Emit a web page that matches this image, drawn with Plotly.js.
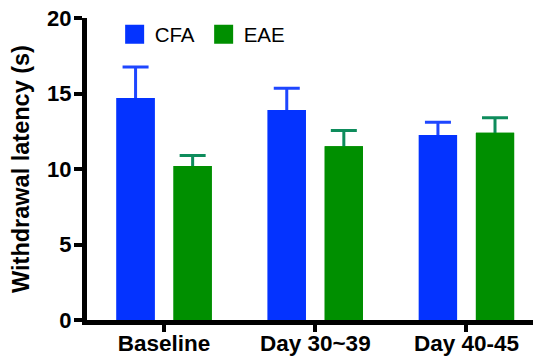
<!DOCTYPE html>
<html>
<head>
<meta charset="utf-8">
<script src="https://cdn.plot.ly/plotly-3.0.1.min.js"></script>
<style>html,body{margin:0;padding:0;background:#fff;}#chart{width:533px;height:360px;}</style>
</head>
<body>
<div id="chart"></div>
<script>
const categories = ["Baseline", "Day 30~39", "Day 40-45"];
const cfaMean = [14.7, 13.9, 12.25];
const cfaErr = [2.05, 1.45, 0.85];
const eaeMean = [10.2, 11.5, 12.4];
const eaeErr = [0.7, 1.05, 1.0];
const yTicks = [0, 5, 10, 15, 20];

const blue = "#0433FF";
const green = "#008F00";
const tuck = 0.2; // error stem tucked under the bar top

function errBar(errs, color) {
  return {type: "data", symmetric: false, array: errs, arrayminus: errs.map(() => tuck),
          color: color, thickness: 3, width: 13};
}

const data = [
  // bars carrying the error bars (underneath)
  {type: "bar", name: "CFA", x: categories, y: cfaMean, marker: {color: blue, line: {width: 0}},
   error_y: errBar(cfaErr, "#1E46FF"), showlegend: false},
  {type: "bar", name: "EAE", x: categories, y: eaeMean, marker: {color: green, line: {width: 0}},
   error_y: errBar(eaeErr, "#0E8C5C"), showlegend: false},
  // same bars drawn on top, hiding the lower end of the error bars
  {type: "bar", name: "CFA", x: categories, y: cfaMean, yaxis: "y2", marker: {color: blue, line: {width: 0}}, showlegend: false},
  {type: "bar", name: "EAE", x: categories, y: eaeMean, yaxis: "y2", marker: {color: green, line: {width: 0}}, showlegend: false},
  {type: "scatter", mode: "markers", name: "CFA", x: [null], y: [null], marker: {symbol: "square", size: 16, color: blue, line: {width: 3, color: blue}}, showlegend: true},
  {type: "scatter", mode: "markers", name: "EAE", x: [null], y: [null], marker: {symbol: "square", size: 16, color: green, line: {width: 3, color: green}}, showlegend: true}
];

const layout = {
  width: 533, height: 360,
  margin: {l: 87, r: 0, t: 18, b: 40},
  paper_bgcolor: "#fff", plot_bgcolor: "#fff",
  barmode: "group", bargap: 0.245, bargroupgap: 0.33,
  font: {family: "Liberation Sans, Arial, sans-serif", color: "#000"},
  xaxis: {
    type: "category", range: [-0.51, 2.44],
    showline: true, linewidth: 5, linecolor: "#000",
    ticks: "outside", ticklen: 7, tickwidth: 4, tickcolor: "#000",
    ticklabelstandoff: -8,
    showgrid: false, zeroline: false,
    tickfont: {size: 22.5, family: "Liberation Sans, Arial, sans-serif", weight: "bold"}
  },
  yaxis: {
    range: [0, 20], tickvals: yTicks, ticktext: yTicks.map(String),
    showline: true, linewidth: 5, linecolor: "#000",
    ticks: "outside", ticklen: 8, tickwidth: 4, tickcolor: "#000",
    ticklabelstandoff: -2,
    showgrid: false, zeroline: false,
    tickfont: {size: 22, family: "Liberation Sans, Arial, sans-serif", weight: "bold"},
    title: {text: "Withdrawal latency (s)", font: {size: 23.5, weight: "bold"}, standoff: 12}
  },
  yaxis2: {
    overlaying: "y", range: [0, 20], showline: false, showgrid: false, zeroline: false,
    showticklabels: false, ticks: ""
  },
  legend: {orientation: "h", x: 0.062, y: 1.012, xanchor: "left", yanchor: "top",
    font: {size: 20.5}, bgcolor: "rgba(0,0,0,0)", itemwidth: 30, entrywidth: 44},
  hovermode: false
};

Plotly.newPlot("chart", data, layout, {displayModeBar: false, staticPlot: true});
</script>
</body>
</html>
